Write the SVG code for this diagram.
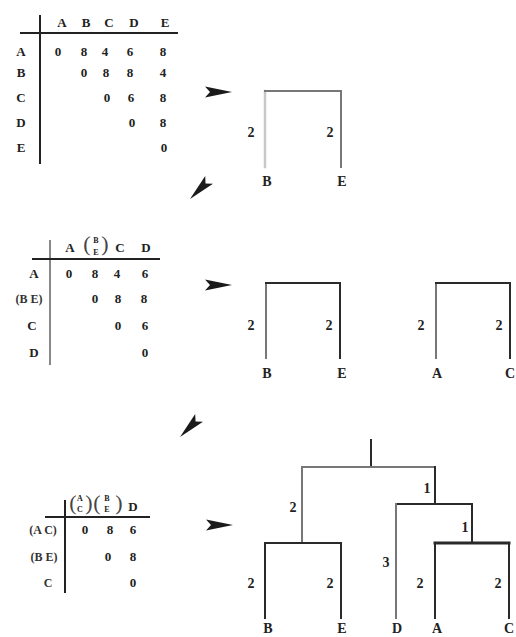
<svg xmlns="http://www.w3.org/2000/svg" xmlns:xlink="http://www.w3.org/1999/xlink" width="516" height="637" viewBox="0 0 516 637">
  <style>
    text { font-family: "Liberation Serif", "Times New Roman", serif; fill: #222; text-anchor: middle; }
    .m { font-size: 13px; font-weight: bold; }
    .d { font-size: 14px; font-weight: bold; }
    .rl { font-size: 12px; fill: #333; font-weight: bold; }
    .par { font-size: 22px; fill: #444; }
    .sm { font-size: 8px; font-weight: bold; }
    .rule { stroke: #222; stroke-width: 2; fill: none; }
    .rule-g { stroke: #888; stroke-width: 2; fill: none; }
    .br { stroke: #2a2a2a; stroke-width: 2; fill: none; stroke-linecap: square; }
    .br-m { stroke: #777; stroke-width: 2; fill: none; stroke-linecap: square; }
    .br-l { stroke: #c8c8c8; stroke-width: 2.5; fill: none; stroke-linecap: square; }
    .arrow { fill: #1a1a1a; }
  </style>
  <defs>
    <!-- dart-shaped arrowhead, tip at origin pointing along +x -->
    <polygon id="dart" class="arrow" points="0,0 -27,-5.5 -22,0 -27,5.5"/>
  </defs>

  <!-- distance matrix over A..E -->
  <g id="matrix1">
    <line class="rule" x1="40" y1="15" x2="40" y2="164"/>
    <line class="rule" x1="20" y1="33" x2="178" y2="33"/>
    <text class="m" x="62" y="27">A</text>
    <text class="m" x="86" y="27">B</text>
    <text class="m" x="109" y="27">C</text>
    <text class="m" x="134" y="27">D</text>
    <text class="m" x="165" y="27">E</text>
    <text class="m" x="21" y="56">A</text>
    <text class="m" x="21" y="77">B</text>
    <text class="m" x="21" y="102">C</text>
    <text class="m" x="21" y="127">D</text>
    <text class="m" x="21" y="152">E</text>
    <text class="m" x="58" y="56">0</text>
    <text class="m" x="84" y="56">8</text>
    <text class="m" x="105" y="56">4</text>
    <text class="m" x="130" y="56">6</text>
    <text class="m" x="163" y="56">8</text>
    <text class="m" x="84" y="77">0</text>
    <text class="m" x="106" y="77">8</text>
    <text class="m" x="130" y="77">8</text>
    <text class="m" x="163" y="77">4</text>
    <text class="m" x="107" y="102">0</text>
    <text class="m" x="131" y="102">6</text>
    <text class="m" x="163" y="102">8</text>
    <text class="m" x="132" y="127">0</text>
    <text class="m" x="163" y="127">8</text>
    <text class="m" x="164" y="152">0</text>
  </g>

  <!-- first merge: B and E -->
  <g id="tree1">
    <line class="br-l" x1="265" y1="91" x2="265" y2="167"/>
    <line class="br-m" x1="265" y1="91" x2="341" y2="91"/>
    <line class="br-m" x1="341" y1="91" x2="341" y2="167"/>
    <text class="d" x="251" y="137">2</text>
    <text class="d" x="330" y="137">2</text>
    <text class="d" x="267" y="186">B</text>
    <text class="d" x="342" y="186">E</text>
  </g>

  <!-- reduced matrix with (B E) merged -->
  <g id="matrix2">
    <line class="rule-g" x1="50" y1="240" x2="50" y2="365"/>
    <line class="rule" x1="32" y1="259" x2="160" y2="259"/>
    <text class="m" x="70" y="252">A</text>
    <text class="par" x="87" y="251">(</text>
    <text class="sm" x="96" y="243">B</text>
    <text class="sm" x="96" y="255">E</text>
    <text class="par" x="105" y="251">)</text>
    <text class="m" x="120" y="252">C</text>
    <text class="m" x="146" y="252">D</text>
    <text class="m" x="34" y="278">A</text>
    <text class="rl" x="29" y="303">(B E)</text>
    <text class="m" x="32" y="330">C</text>
    <text class="m" x="34" y="357">D</text>
    <text class="m" x="69" y="278">0</text>
    <text class="m" x="95" y="278">8</text>
    <text class="m" x="117" y="278">4</text>
    <text class="m" x="145" y="278">6</text>
    <text class="m" x="95" y="303">0</text>
    <text class="m" x="118" y="303">8</text>
    <text class="m" x="144" y="303">8</text>
    <text class="m" x="118" y="330">0</text>
    <text class="m" x="145" y="330">6</text>
    <text class="m" x="145" y="357">0</text>
  </g>

  <g id="tree2a">
    <line class="br-m" x1="266" y1="283" x2="266" y2="358"/>
    <line class="br" x1="266" y1="283" x2="340" y2="283"/>
    <line class="br" x1="340" y1="283" x2="340" y2="358"/>
    <text class="d" x="251" y="330">2</text>
    <text class="d" x="329" y="330">2</text>
    <text class="d" x="267" y="378">B</text>
    <text class="d" x="342" y="378">E</text>
  </g>

  <g id="tree2b">
    <line class="br-m" x1="436" y1="283" x2="436" y2="358"/>
    <line class="br" x1="436" y1="283" x2="510" y2="283"/>
    <line class="br" x1="510" y1="283" x2="510" y2="358"/>
    <text class="d" x="421" y="330">2</text>
    <text class="d" x="499" y="330">2</text>
    <text class="d" x="437" y="378">A</text>
    <text class="d" x="510" y="378">C</text>
  </g>

  <!-- reduced matrix with (A C) and (B E) merged -->
  <g id="matrix3">
    <line class="rule" x1="65" y1="500" x2="65" y2="593"/>
    <line class="rule" x1="45" y1="517" x2="150" y2="517"/>
    <text class="par" x="73" y="510">(</text>
    <text class="sm" x="80" y="501">A</text>
    <text class="sm" x="80" y="512">C</text>
    <text class="par" x="89" y="510">)</text>
    <text class="par" x="97" y="510">(</text>
    <text class="sm" x="107" y="501">B</text>
    <text class="sm" x="107" y="512">E</text>
    <text class="par" x="119" y="510">)</text>
    <text class="m" x="133" y="511">D</text>
    <text class="rl" x="43" y="534">(A C)</text>
    <text class="rl" x="44" y="561">(B E)</text>
    <text class="rl" x="48" y="587">C</text>
    <text class="m" x="85" y="534">0</text>
    <text class="m" x="110" y="534">8</text>
    <text class="m" x="133" y="534">6</text>
    <text class="m" x="108" y="561">0</text>
    <text class="m" x="133" y="561">8</text>
    <text class="m" x="133" y="587">0</text>
  </g>

  <!-- full dendrogram -->
  <g id="tree3">
    <line class="br" x1="371" y1="440" x2="371" y2="467"/>
    <line class="br-m" x1="302" y1="467" x2="435" y2="467"/>
    <line class="br-m" x1="302" y1="467" x2="302" y2="543"/>
    <line class="br" x1="265" y1="543" x2="341" y2="543"/>
    <line class="br" x1="265" y1="543" x2="265" y2="618"/>
    <line class="br" x1="341" y1="543" x2="341" y2="618"/>
    <line class="br" x1="435" y1="467" x2="435" y2="504"/>
    <line class="br" x1="396" y1="504" x2="472" y2="504"/>
    <line class="br-m" x1="396" y1="504" x2="396" y2="618"/>
    <line class="br" x1="472" y1="504" x2="472" y2="543"/>
    <line class="br" x1="435" y1="543" x2="509" y2="543" style="stroke-width:3"/>
    <line class="br" x1="435" y1="543" x2="435" y2="618"/>
    <line class="br" x1="509" y1="543" x2="509" y2="618"/>
    <text class="d" x="293" y="512">2</text>
    <text class="d" x="427" y="493">1</text>
    <text class="d" x="465" y="532">1</text>
    <text class="d" x="386" y="567">3</text>
    <text class="d" x="251" y="588">2</text>
    <text class="d" x="330" y="588">2</text>
    <text class="d" x="420" y="588">2</text>
    <text class="d" x="498" y="588">2</text>
    <text class="d" x="268" y="633">B</text>
    <text class="d" x="342" y="633">E</text>
    <text class="d" x="397" y="633">D</text>
    <text class="d" x="437" y="633">A</text>
    <text class="d" x="509" y="633">C</text>
  </g>

  <!-- step arrows -->
  <g id="connectors">
    <use xlink:href="#dart" transform="translate(232,92)"/>
    <use xlink:href="#dart" transform="translate(190,199) rotate(135)"/>
    <use xlink:href="#dart" transform="translate(232,285)"/>
    <use xlink:href="#dart" transform="translate(180,437) rotate(135)"/>
    <use xlink:href="#dart" transform="translate(233,525)"/>
  </g>
</svg>
